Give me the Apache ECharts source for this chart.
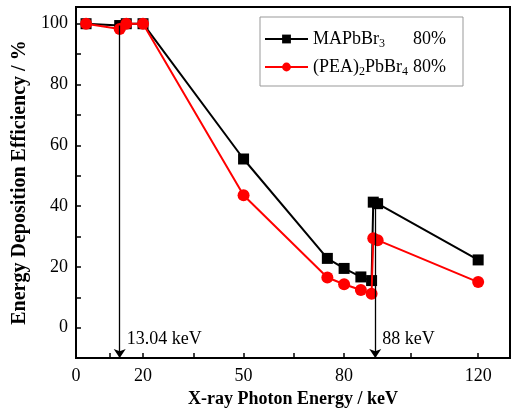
<!DOCTYPE html>
<html>
<head>
<meta charset="utf-8">
<script src="https://cdn.jsdelivr.net/npm/echarts@6/dist/echarts.min.js"></script>
<style>
  html, body { margin: 0; padding: 0; background: #fff; }
  #chart { width: 511px; height: 413px; }
</style>
</head>
<body>
<div id="chart"></div>
<script>
// photon energies (keV)
var energy = [3, 13.04, 15, 20, 50, 75, 80, 85, 88.2, 88.7, 90, 120]
// energy deposition efficiency (%)
var mapbbr3 = [100, 99.4, 100, 100, 55.5, 22.8, 19.5, 16.7, 15.5, 41.3, 40.8, 22.3]
var pea2pbbr4 = [100, 98.3, 100, 100, 43.6, 16.5, 14.3, 12.4, 11.2, 29.4, 28.8, 15]

var xLabels = [0, 20, 50, 80, 120]
var xTicks = [10, 20, 35, 50, 65, 80, 100, 120]
var yLabels = [0, 20, 40, 60, 80, 100]
var yTicks = [0, 10, 20, 30, 40, 50, 60, 70, 80, 90, 100]

// absorption edges
var edgeX = [13.04, 89.3]
var edgeTop = [99.4, 41.3]
var edgeText = ['13.04 keV', '88 keV']
var edgeTextY = -3.9

var FONT = 'Liberation Serif'

function pairs(xs, ys) {
  return xs.map(function (x, i) { return [x, ys[i]] })
}

var chart = echarts.init(document.getElementById('chart'))

var legendNames = {
  MAP: '{n|MAPbBr}{s|3}{p|80%}',
  PEA: '{n|(PEA)}{s|2}{n|PbBr}{s|4}{p|80%}'
}

chart.setOption({
  animation: false,
  textStyle: { fontFamily: FONT },
  grid: {
    left: 76, right: 1, top: 7, bottom: 54,
    show: true, borderColor: '#000', borderWidth: 2
  },
  legend: {
    orient: 'vertical',
    left: 260, top: 17,
    padding: [13, 17, 8, 4],
    itemGap: 8,
    itemWidth: 43,
    itemHeight: 11,
    borderColor: '#999',
    borderWidth: 1,
    formatter: function (name) { return legendNames[name] },
    textStyle: {
      width: 133,
      rich: {
        n: { fontFamily: FONT, fontSize: 18, lineHeight: 22, color: '#000' },
        s: { fontFamily: FONT, fontSize: 12, lineHeight: 22, verticalAlign: 'bottom', color: '#000' },
        p: { fontFamily: FONT, fontSize: 18, lineHeight: 22, align: 'right', color: '#000' }
      }
    }
  },
  xAxis: {
    type: 'value',
    min: 0, max: 129.5,
    name: 'X-ray Photon Energy / keV',
    nameLocation: 'middle',
    nameGap: 27,
    nameTextStyle: { fontFamily: FONT, fontSize: 18, fontWeight: 'bold', color: '#000' },
    splitLine: { show: false },
    axisLine: { onZero: false, lineStyle: { color: '#000', width: 2 } },
    axisTick: { inside: true, length: 5, customValues: xTicks, lineStyle: { color: '#000', width: 1.5 } },
    axisLabel: { customValues: xLabels, margin: 9, fontFamily: FONT, fontSize: 18, color: '#000' }
  },
  yAxis: {
    type: 'value',
    min: -10, max: 105.5,
    name: 'Energy Deposition Efficiency / %',
    nameLocation: 'middle',
    nameGap: 44,
    nameTextStyle: { fontFamily: FONT, fontSize: 20, fontWeight: 'bold', color: '#000' },
    splitLine: { show: false },
    axisLine: { onZero: false, lineStyle: { color: '#000', width: 2 } },
    axisTick: { inside: true, length: 5, customValues: yTicks, lineStyle: { color: '#000', width: 1.5 } },
    axisLabel: { customValues: yLabels, margin: 8, fontFamily: FONT, fontSize: 18, color: '#000' }
  },
  series: [
    {
      name: 'MAP',
      type: 'line',
      data: pairs(energy, mapbbr3),
      symbol: 'rect',
      symbolSize: 11,
      z: 3,
      itemStyle: { color: '#000' },
      lineStyle: { color: '#000', width: 2 },
      markLine: {
        silent: true,
        symbol: ['none', 'arrow'],
        symbolSize: 9,
        label: { show: false },
        lineStyle: { color: '#000', width: 1.3, type: 'solid' },
        data: edgeX.map(function (x, i) {
          return [{ coord: [x, edgeTop[i]] }, { coord: [x, -10] }]
        })
      },
      markPoint: {
        silent: true,
        symbol: 'circle',
        symbolSize: 0,
        label: {
          show: true, position: 'right', distance: 7,
          fontFamily: FONT, fontSize: 18, color: '#000',
          formatter: function (p) { return p.name }
        },
        data: edgeX.map(function (x, i) {
          return { name: edgeText[i], coord: [x, edgeTextY] }
        })
      }
    },
    {
      name: 'PEA',
      type: 'line',
      data: pairs(energy, pea2pbbr4),
      symbol: 'circle',
      symbolSize: 12,
      z: 4,
      itemStyle: { color: '#ff0000' },
      lineStyle: { color: '#ff0000', width: 2 }
    }
  ]
})
</script>
</body>
</html>
